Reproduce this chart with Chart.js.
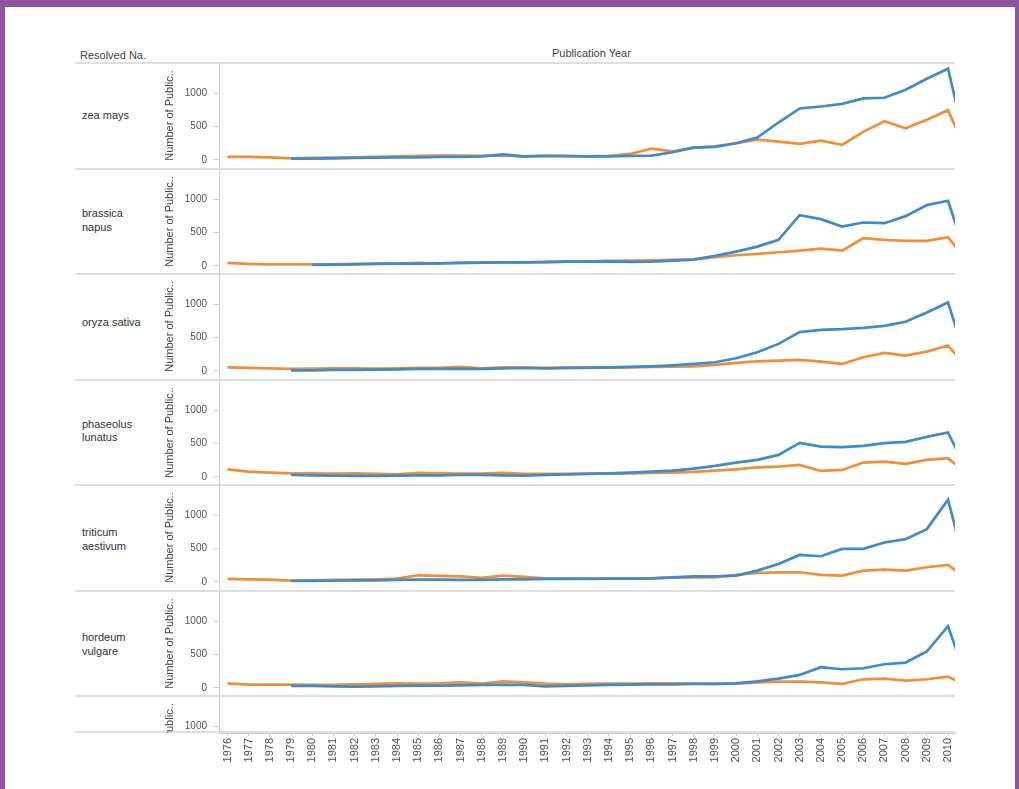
<!DOCTYPE html>
<html>
<head>
<meta charset="utf-8">
<script src="https://cdn.jsdelivr.net/npm/chart.js@4.4.0/dist/chart.umd.min.js"></script>
<style>
html,body{margin:0;padding:0;background:#fff;}
body{width:1019px;height:789px;position:relative;overflow:hidden;font-family:"Liberation Sans",Arial,sans-serif;}
.frame{position:absolute;background:#8e529f;}
.hdr{position:absolute;font-size:11px;color:#444;white-space:nowrap;line-height:12px;}
.sep{position:absolute;left:75px;width:880px;height:2px;background:#dedede;}
.row{position:absolute;left:82px;font-size:11px;color:#333;line-height:14px;white-space:nowrap;}
canvas{position:absolute;left:155px;}
</style>
</head>
<body>
<div class="frame" style="left:0;top:0;width:1019px;height:7px;"></div>
<div class="frame" style="left:0;top:0;width:5px;height:789px;"></div>
<div class="frame" style="left:1015px;top:0;width:4px;height:789px;"></div>

<div id="hdrs"></div>
<div id="seps"></div>
<div id="rows"></div>
<div id="charts"></div>

<script>
// ---------------- DATA ----------------
const years = [1976,1977,1978,1979,1980,1981,1982,1983,1984,1985,1986,1987,1988,1989,1990,1991,1992,1993,1994,1995,1996,1997,1998,1999,2000,2001,2002,2003,2004,2005,2006,2007,2008,2009,2010,2011];
const xTickLabels = ['1976','1977','1978','1979','1980','1981','1982','1983','1984','1985','1986','1987','1988','1989','1990','1991','1992','1993','1994','1995','1996','1997','1998','1999','2000','2001','2002','2003','2004','2005','2006','2007','2008','2009','2010'];
const yTickValues = [0, 500, 1000];
const speciesNames = ['zea mays','brassica napus','oryza sativa','phaseolus lunatus','triticum aestivum','hordeum vulgare',''];
const speciesLines = [['zea mays'],['brassica','napus'],['oryza sativa'],['phaseolus','lunatus'],['triticum','aestivum'],['hordeum','vulgare'],[]];
const yAxisTitle = 'Number of Public..';
const headerRow = 'Resolved Na.';
const headerCol = 'Publication Year';

const zeaMaysBlue = [null,null,null,20,20,25,30,35,40,40,45,45,55,85,55,60,60,55,55,60,65,115,185,195,250,335,560,770,800,840,920,930,1050,1215,1365,20];
const zeaMaysOrange = [45,45,40,25,30,35,40,45,55,60,65,65,60,70,50,60,55,55,60,90,170,130,185,205,250,305,275,240,290,225,420,580,475,600,745,30];
const brassicaNapusBlue = [null,null,null,null,15,20,25,30,35,35,40,45,50,55,55,60,65,65,70,60,65,80,95,150,215,290,390,760,700,590,650,640,745,910,975,20];
const brassicaNapusOrange = [45,30,25,25,25,25,30,35,35,45,40,45,50,55,55,55,65,70,75,80,85,90,100,130,160,180,205,230,260,230,415,390,375,375,430,30];
const oryzaSativaBlue = [null,null,null,10,10,15,15,20,25,30,30,30,30,40,45,40,45,50,55,60,70,85,105,130,190,280,405,580,615,625,645,675,735,875,1025,20];
const oryzaSativaOrange = [55,45,40,30,35,40,40,35,40,45,45,60,40,55,50,45,50,45,50,55,60,65,70,90,120,145,155,165,140,105,205,270,230,290,380,20];
const phaseolusLunatusBlue = [null,null,null,30,25,20,15,15,20,25,25,30,30,25,20,30,40,45,55,65,80,95,125,165,215,255,330,510,455,445,465,505,525,600,665,20];
const phaseolusLunatusOrange = [115,80,65,55,55,50,55,45,40,60,55,50,50,60,45,45,45,50,50,55,60,65,75,95,115,145,155,180,90,105,215,230,195,255,280,20];
const triticumAestivumBlue = [null,null,null,15,15,20,25,25,30,35,35,30,30,40,40,45,45,45,50,50,55,70,85,85,95,170,270,405,385,495,495,590,640,790,1230,20];
const triticumAestivumOrange = [45,40,35,20,25,30,35,40,50,100,90,85,60,95,75,55,50,50,55,50,55,65,70,70,105,135,145,145,105,95,170,185,170,220,255,20];
const hordeumVulgareBlue = [null,null,null,30,30,25,20,25,30,35,35,40,45,50,45,25,30,40,45,50,55,55,60,60,70,100,140,195,310,280,295,355,380,545,925,20];
const hordeumVulgareOrange = [70,50,50,50,45,45,55,60,70,65,70,85,65,100,85,65,55,60,65,65,70,70,65,60,65,85,95,95,85,60,130,140,110,130,170,20];

const blueSeries = [zeaMaysBlue, brassicaNapusBlue, oryzaSativaBlue, phaseolusLunatusBlue, triticumAestivumBlue, hordeumVulgareBlue, null];
const orangeSeries = [zeaMaysOrange, brassicaNapusOrange, oryzaSativaOrange, phaseolusLunatusOrange, triticumAestivumOrange, hordeumVulgareOrange, null];

// ---------------- LAYOUT / STYLE ----------------
const BLUE = '#3f8bcb';
const ORANGE = '#ef8f3a';
const FONT = '"Liberation Sans", Arial, sans-serif';
const panelTops = [63,169,274,380,485,591,696];
const PANEL_H = 105;
const LAST_PLOT_H = 37;
const Y_MIN = -120, Y_MAX = 1450;
const X_MIN = 1975.6, X_MAX = 2010.33;
const labelOffsets = [[52],[44,58],[48],[44,57],[47,61],[46,60],[]];

Chart.defaults.font.family = FONT;

// headers
const hdrHost = document.getElementById('hdrs');
[[headerRow, 80, 49], [headerCol, 552, 47]].forEach(([t, l, tp]) => {
  const d = document.createElement('div');
  d.className = 'hdr';
  d.textContent = t;
  d.style.left = l + 'px';
  d.style.top = tp + 'px';
  hdrHost.appendChild(d);
});

// separators
const sepHost = document.getElementById('seps');
panelTops.concat([panelTops[6] + LAST_PLOT_H - 1]).forEach(t => {
  const d = document.createElement('div');
  d.className = 'sep';
  d.style.top = (t - 1) + 'px';
  sepHost.appendChild(d);
});

// row labels
const rowHost = document.getElementById('rows');
speciesLines.forEach((lines, i) => {
  lines.forEach((txt, j) => {
    const d = document.createElement('div');
    d.className = 'row';
    d.textContent = txt;
    d.style.top = (panelTops[i] + labelOffsets[i][j] - 7) + 'px';
    rowHost.appendChild(d);
  });
});

const titleShift = {
  id: 'titleShift',
  beforeDraw(chart, args, opts) {
    const s = chart.scales.y;
    if (!s || s.__patched) return;
    const orig = s.drawTitle;
    s.drawTitle = function () {
      const ctx = this.ctx;
      ctx.save();
      ctx.beginPath();
      ctx.rect(0, this.top, this.right, this.bottom - this.top);
      ctx.clip();
      ctx.translate(0, opts.shift || 0);
      orig.call(this);
      ctx.restore();
    };
    s.__patched = true;
  }
};

const chartHost = document.getElementById('charts');
speciesNames.forEach((name, i) => {
  const isLast = i === 6;
  const cv = document.createElement('canvas');
  const h = isLast ? 75 : PANEL_H;
  cv.width = 805; cv.height = h;
  cv.style.top = panelTops[i] + 'px';
  cv.style.width = '805px'; cv.style.height = h + 'px';
  chartHost.appendChild(cv);

  const yMin = isLast ? Y_MAX - LAST_PLOT_H * (Y_MAX - Y_MIN) / PANEL_H : Y_MIN;
  const datasets = [];
  if (blueSeries[i]) {
    datasets.push({label: name + ' (blue)', data: years.map((y, k) => ({x: y, y: blueSeries[i][k]})),
      borderColor: BLUE, backgroundColor: BLUE, borderWidth: 2.7, pointRadius: 0, tension: 0, spanGaps: false});
    datasets.push({label: name + ' (orange)', data: years.map((y, k) => ({x: y, y: orangeSeries[i][k]})),
      borderColor: ORANGE, backgroundColor: ORANGE, borderWidth: 2.7, pointRadius: 0, tension: 0, spanGaps: false});
  }

  new Chart(cv, {
    type: 'line',
    data: {datasets},
    plugins: [titleShift],
    options: {
      responsive: false,
      animation: false,
      events: [],
      layout: {padding: {left: 0, right: 5, top: 0, bottom: 0}},
      plugins: {legend: {display: false}, tooltip: {enabled: false},
        titleShift: {shift: isLast ? (PANEL_H - LAST_PLOT_H) / 2 : 0}},
      scales: {
        x: {
          type: 'linear',
          min: X_MIN, max: X_MAX,
          display: isLast,
          afterBuildTicks: s => { s.ticks = xTickLabels.map(l => ({value: Number(l)})); },
          afterFit: s => { if (isLast) { s.height = h - LAST_PLOT_H; } s.paddingLeft = 0; s.paddingRight = 0; },
          ticks: {autoSkip: false, minRotation: 90, maxRotation: 90, padding: 2, color: '#555',
            font: {size: 11, family: FONT},
            callback: v => xTickLabels[xTickLabels.indexOf(String(v))]},
          grid: {drawOnChartArea: false, drawTicks: true, tickLength: 3, color: '#cfcfcf'},
          border: {display: true, color: '#cfcfcf'}
        },
        y: {
          type: 'linear',
          min: yMin, max: Y_MAX,
          afterBuildTicks: s => { s.ticks = yTickValues.filter(v => v >= s.min && v <= s.max).map(v => ({value: v})); },
          afterFit: s => { s.width = 64; s.paddingTop = 0; s.paddingBottom = 0; },
          ticks: {padding: 6, color: '#555', font: {size: 10, family: FONT}, callback: v => String(v)},
          grid: {drawOnChartArea: false, drawTicks: true, tickLength: 6, color: '#cfcfcf'},
          border: {display: true, color: '#cfcfcf'},
          title: {display: true, text: yAxisTitle, color: '#444', font: {size: 11, family: FONT}, padding: {top: 8, bottom: 0}}
        }
      }
    }
  });
});
</script>
</body>
</html>
